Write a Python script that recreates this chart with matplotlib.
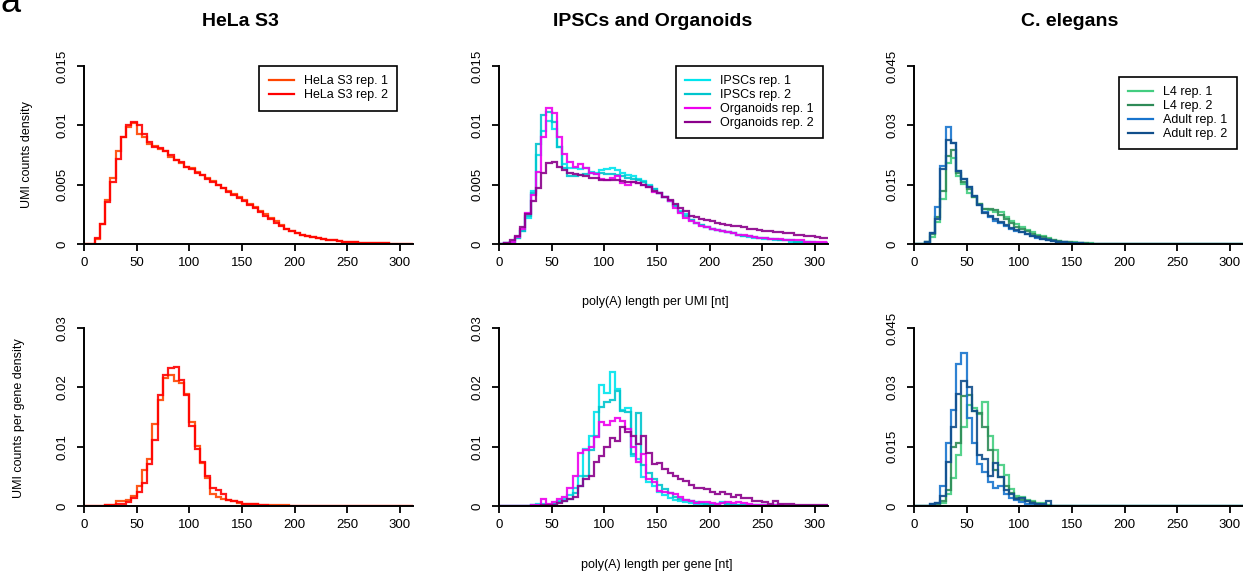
import numpy as np
import matplotlib.pyplot as plt
from matplotlib.lines import Line2D

plt.rcParams['font.family'] = ['Liberation Sans', 'DejaVu Sans']

W, H = 1243, 571
BIN = 5
NBINS = 64

# --- poly(A) length per UMI (density per 5 nt bin, starting at 0 nt) ---
hela_umi_rep1 = [0, 0, 0.0004, 0.0017, 0.0037, 0.0056, 0.0078, 0.0090, 0.0099, 0.0102,
                 0.0093, 0.0090, 0.0084, 0.0083, 0.0080, 0.0078, 0.0073, 0.0071, 0.0068, 0.0065,
                 0.0064, 0.0061, 0.0058, 0.0056, 0.0053, 0.0050, 0.0047, 0.0045, 0.0042, 0.0040,
                 0.0037, 0.0034, 0.0031, 0.0028, 0.0025, 0.0022, 0.0019, 0.0016, 0.0013, 0.0011,
                 0.0009, 0.0008, 0.0007, 0.0006, 0.0005, 0.0004, 0.00035, 0.0003, 0.00025, 0.0002,
                 0.00018, 0.00015, 0.00012, 0.0001, 0.00009, 0.00007, 0.00006, 0.00005, 0.00004, 0.00003,
                 0.00003, 0.00002, 0.00002]
hela_umi_rep2 = [0, 0, 0.0005, 0.0017, 0.0035, 0.0052, 0.0072, 0.0090, 0.0100, 0.0103,
                 0.0100, 0.0093, 0.0086, 0.0082, 0.0081, 0.0078, 0.0075, 0.0071, 0.0069, 0.0065,
                 0.0063, 0.0060, 0.0058, 0.0055, 0.0052, 0.0050, 0.0047, 0.0044, 0.0041, 0.0039,
                 0.0036, 0.0033, 0.0030, 0.0027, 0.0024, 0.0021, 0.0018, 0.0015, 0.0013, 0.0011,
                 0.0009, 0.0008, 0.0007, 0.0006, 0.0005, 0.0004, 0.00035, 0.0003, 0.00025, 0.0002,
                 0.00017, 0.00014, 0.00012, 0.0001, 0.00008, 0.00007, 0.00006, 0.00005, 0.00004, 0.00003,
                 0.00003, 0.00002, 0.00002]

ipsc_umi_rep1 = [0, 0.0001, 0.0002, 0.0005, 0.0011, 0.0022, 0.0045, 0.0075, 0.0095, 0.0104,
                 0.0097, 0.0082, 0.0067, 0.0064, 0.0064, 0.0063, 0.0064, 0.0061, 0.0060, 0.0062,
                 0.0063, 0.0064, 0.0062, 0.0060, 0.0058, 0.0057, 0.0055, 0.0053, 0.0050, 0.0046,
                 0.0043, 0.0040, 0.0036, 0.0033, 0.0028, 0.0025, 0.0020, 0.0018, 0.0016, 0.0014,
                 0.0013, 0.0012, 0.0011, 0.0010, 0.0009, 0.0008, 0.0007, 0.0006, 0.0005, 0.0005,
                 0.0004, 0.0004, 0.0003, 0.0003, 0.0003, 0.0002, 0.0002, 0.0002, 0.0002, 0.0001,
                 0.0001, 0.0001, 0.0001]
ipsc_umi_rep2 = [0, 0.0001, 0.0002, 0.0005, 0.0011, 0.0024, 0.0043, 0.0084, 0.0109, 0.0111,
                 0.0103, 0.0082, 0.0064, 0.0057, 0.0057, 0.0058, 0.0059, 0.0060, 0.0059, 0.0060,
                 0.0059, 0.0059, 0.0058, 0.0057, 0.0056, 0.0055, 0.0054, 0.0052, 0.0049, 0.0046,
                 0.0043, 0.0040, 0.0036, 0.0032, 0.0027, 0.0024, 0.0020, 0.0018, 0.0016, 0.0014,
                 0.0013, 0.0012, 0.0011, 0.0010, 0.0009, 0.0008, 0.0007, 0.0007, 0.0006, 0.0005,
                 0.0005, 0.0004, 0.0004, 0.0003, 0.0003, 0.0003, 0.0002, 0.0002, 0.0002, 0.0002,
                 0.0001, 0.0001, 0.0001]
org_umi_rep1 = [0, 0.0001, 0.0002, 0.0006, 0.0013, 0.0026, 0.0041, 0.0061, 0.0090, 0.0115,
                0.0110, 0.0090, 0.0076, 0.0069, 0.0065, 0.0067, 0.0064, 0.0060, 0.0059, 0.0055,
                0.0054, 0.0056, 0.0057, 0.0051, 0.0050, 0.0052, 0.0051, 0.0050, 0.0048, 0.0044,
                0.0043, 0.0040, 0.0036, 0.0030, 0.0026, 0.0022, 0.0019, 0.0018, 0.0015, 0.0014,
                0.0013, 0.0012, 0.0011, 0.0010, 0.0009, 0.0008, 0.0008, 0.0007, 0.0006, 0.0005,
                0.0005, 0.0004, 0.0004, 0.0004, 0.0003, 0.0003, 0.0003, 0.0003, 0.0002, 0.0002,
                0.0002, 0.0002, 0.0001]
org_umi_rep2 = [0, 0.0001, 0.0003, 0.0007, 0.0014, 0.0025, 0.0036, 0.0047, 0.0060, 0.0068,
                0.0069, 0.0065, 0.0062, 0.0060, 0.0059, 0.0058, 0.0057, 0.0056, 0.0056, 0.0054,
                0.0054, 0.0054, 0.0054, 0.0053, 0.0052, 0.0052, 0.0051, 0.0050, 0.0048, 0.0045,
                0.0043, 0.0040, 0.0037, 0.0034, 0.0030, 0.0028, 0.0024, 0.0023, 0.0021, 0.0020,
                0.0019, 0.0018, 0.0017, 0.0016, 0.0015, 0.0015, 0.0014, 0.0013, 0.0013, 0.0012,
                0.0011, 0.0011, 0.0010, 0.0010, 0.0009, 0.0009, 0.0008, 0.0008, 0.0007, 0.0007,
                0.0006, 0.0005, 0.0005]

l4_umi_rep1 = [0, 0, 0.0004, 0.0018, 0.0056, 0.0115, 0.0206, 0.0218, 0.0172, 0.0152,
               0.0130, 0.0118, 0.0102, 0.0089, 0.0085, 0.0081, 0.0080, 0.0068, 0.0058, 0.0050,
               0.0044, 0.0036, 0.0030, 0.0024, 0.0019, 0.0014, 0.0011, 0.0008, 0.0006, 0.0005,
               0.0004, 0.0003, 0.0002, 0.0002, 0.0001, 0.0001]
l4_umi_rep2 = [0, 0, 0.0005, 0.0025, 0.0068, 0.0135, 0.0222, 0.0237, 0.0180, 0.0158,
               0.0140, 0.0118, 0.0102, 0.0089, 0.0088, 0.0085, 0.0074, 0.0064, 0.0054, 0.0044,
               0.0038, 0.0032, 0.0026, 0.0021, 0.0017, 0.0012, 0.0009, 0.0007, 0.0005, 0.0004,
               0.0003, 0.0002, 0.0002, 0.0001, 0.0001]
adult_umi_rep1 = [0, 0, 0.0006, 0.0027, 0.0093, 0.0196, 0.0295, 0.0256, 0.0185, 0.0164,
                  0.0143, 0.0121, 0.0098, 0.0081, 0.0068, 0.0058, 0.0052, 0.0045, 0.0039, 0.0034,
                  0.0030, 0.0025, 0.0020, 0.0016, 0.0012, 0.0009, 0.0007, 0.0005, 0.0004, 0.0003,
                  0.0002, 0.0002, 0.0001, 0.0001, 0.0001]
adult_umi_rep2 = [0, 0, 0.0006, 0.0027, 0.0064, 0.0190, 0.0262, 0.0256, 0.0185, 0.0164,
                  0.0143, 0.0121, 0.0098, 0.0078, 0.0070, 0.0062, 0.0055, 0.0048, 0.0041, 0.0036,
                  0.0031, 0.0026, 0.0021, 0.0017, 0.0013, 0.0010, 0.0008, 0.0006, 0.0004, 0.0003,
                  0.0002, 0.0002, 0.0001]

# --- poly(A) length per gene ---
hela_gene_rep1 = [0, 0, 0, 0, 0.0001, 0.0002, 0.0008, 0.0009, 0.0010, 0.0017,
                  0.0033, 0.0061, 0.0080, 0.0138, 0.0179, 0.0215, 0.0221, 0.0210, 0.0207, 0.0189,
                  0.0142, 0.0101, 0.0072, 0.0047, 0.0021, 0.0016, 0.0012, 0.0010, 0.0009, 0.0005,
                  0.0004, 0.0003, 0.0003, 0.0001, 0.0001, 0.0001, 0.0002, 0.0001, 0.0001]
hela_gene_rep2 = [0, 0, 0, 0, 0.0001, 0.0001, 0.0003, 0.0004, 0.0006, 0.0013,
                  0.0024, 0.0039, 0.0071, 0.0111, 0.0187, 0.0221, 0.0232, 0.0234, 0.0212, 0.0187,
                  0.0135, 0.0096, 0.0075, 0.0051, 0.0030, 0.0027, 0.0020, 0.0010, 0.0009, 0.0006,
                  0.0004, 0.0003, 0.0003, 0.0001, 0.0001]

ipsc_gene_rep1 = [0, 0, 0, 0, 0, 0, 0.0001, 0.0003, 0.0003, 0.0002,
                  0.0004, 0.0008, 0.0012, 0.0018, 0.0030, 0.0050, 0.0096, 0.0118, 0.0158, 0.0204,
                  0.0191, 0.0226, 0.0197, 0.0162, 0.0165, 0.0084, 0.0080, 0.0049, 0.0041, 0.0033,
                  0.0024, 0.0018, 0.0014, 0.0010, 0.0008, 0.0006, 0.0005, 0.0004, 0.0003, 0.0003,
                  0.0002, 0.0003, 0.0006, 0.0004, 0.0002, 0.0002, 0.0001, 0.0001, 0.0001, 0.0002,
                  0.0001, 0.0001, 0.0001]
ipsc_gene_rep2 = [0, 0, 0, 0, 0, 0, 0.0001, 0.0002, 0.0002, 0.0002,
                  0.0003, 0.0006, 0.0008, 0.0012, 0.0022, 0.0033, 0.0051, 0.0094, 0.0118, 0.0167,
                  0.0176, 0.0178, 0.0193, 0.0160, 0.0159, 0.0087, 0.0156, 0.0069, 0.0055, 0.0045,
                  0.0036, 0.0028, 0.0022, 0.0015, 0.0012, 0.0010, 0.0008, 0.0006, 0.0005, 0.0004,
                  0.0003, 0.0003, 0.0005, 0.0003, 0.0002, 0.0002, 0.0002, 0.0001, 0.0001, 0.0002,
                  0.0001, 0.0001, 0.0001]
org_gene_rep1 = [0, 0, 0, 0, 0, 0, 0.0001, 0.0002, 0.0011, 0.0003,
                 0.0007, 0.0011, 0.0016, 0.0030, 0.0051, 0.0090, 0.0094, 0.0099, 0.0116, 0.0142,
                 0.0137, 0.0143, 0.0149, 0.0143, 0.0130, 0.0099, 0.0075, 0.0088, 0.0045, 0.0040,
                 0.0025, 0.0023, 0.0022, 0.0020, 0.0016, 0.0010, 0.0008, 0.0005, 0.0006, 0.0007,
                 0.0005, 0.0004, 0.0005, 0.0006, 0.0005, 0.0006, 0.0005, 0.0003, 0.0002, 0.0002,
                 0.0001, 0.0002, 0.0001, 0.0001]
org_gene_rep2 = [0, 0, 0, 0, 0, 0, 0, 0, 0.0001, 0.0001,
                 0.0002, 0.0005, 0.0008, 0.0011, 0.0016, 0.0033, 0.0045, 0.0050, 0.0075, 0.0085,
                 0.0100, 0.0115, 0.0110, 0.0133, 0.0125, 0.0118, 0.0105, 0.0118, 0.0090, 0.0071,
                 0.0072, 0.0062, 0.0055, 0.0050, 0.0046, 0.0042, 0.0035, 0.0031, 0.0031, 0.0028,
                 0.0023, 0.0020, 0.0023, 0.0020, 0.0016, 0.0018, 0.0014, 0.0013, 0.0009, 0.0008,
                 0.0007, 0.0004, 0.0008, 0.0004, 0.0004, 0.0003, 0.0002, 0.0002, 0.0002, 0.0002,
                 0.0001, 0.0001, 0.0001]

l4_gene_rep1 = [0, 0, 0, 0, 0.0001, 0.0008, 0.0030, 0.0070, 0.0130, 0.0200,
                0.0255, 0.0248, 0.0232, 0.0262, 0.0178, 0.0142, 0.0104, 0.0078, 0.0042, 0.0026,
                0.0022, 0.0015, 0.0012, 0.0008, 0.0007, 0.0002]
l4_gene_rep2 = [0, 0, 0, 0, 0.0002, 0.0012, 0.0040, 0.0150, 0.0160, 0.0277,
                0.0280, 0.0239, 0.0236, 0.0200, 0.0142, 0.0092, 0.0074, 0.0050, 0.0033, 0.0020,
                0.0016, 0.0012, 0.0010, 0.0006, 0.0003, 0.0001]
adult_gene_rep1 = [0, 0, 0, 0.0006, 0.0007, 0.0050, 0.0159, 0.0243, 0.0359, 0.0388,
                   0.0222, 0.0160, 0.0105, 0.0085, 0.0060, 0.0045, 0.0050, 0.0030, 0.0020, 0.0015,
                   0.0010, 0.0006, 0.0004, 0.0003, 0.0002, 0.0001]
adult_gene_rep2 = [0, 0, 0, 0.0006, 0.0007, 0.0025, 0.0110, 0.0200, 0.0283, 0.0317,
                   0.0302, 0.0239, 0.0130, 0.0120, 0.0075, 0.0108, 0.0074, 0.0040, 0.0030, 0.0018,
                   0.0020, 0.0012, 0.0008, 0.0004, 0.0004, 0.0012]

hela_labels = ['HeLa S3 rep. 1', 'HeLa S3 rep. 2']
hela_colors = ['#FF4500', '#FF0000']
iso_labels = ['IPSCs rep. 1', 'IPSCs rep. 2', 'Organoids rep. 1', 'Organoids rep. 2']
iso_colors = ['#00E5EE', '#00C5CD', '#EE00EE', '#8B008B']
ce_labels = ['L4 rep. 1', 'L4 rep. 2', 'Adult rep. 1', 'Adult rep. 2']
ce_colors = ['#43CD80', '#2E8B57', '#1874CD', '#104E8B']

titles = ['HeLa S3', 'IPSCs and Organoids', 'C. elegans']


def pad(vals):
    return list(vals) + [0.0] * (NBINS - len(vals))


edges = np.arange(NBINS + 1) * BIN

fig = plt.figure(figsize=(W / 100, H / 100), dpi=100)

col_x = [84, 499, 914]
row_y = [244, 506]
ax_w, ax_h = 329, 178

panels = [
    [(hela_umi_rep1, hela_umi_rep2), hela_colors, hela_labels, [0, 0.005, 0.01, 0.015],
     ['0', '0.005', '0.01', '0.015'], (0.951, 1.0)],
    [(ipsc_umi_rep1, ipsc_umi_rep2, org_umi_rep1, org_umi_rep2), iso_colors, iso_labels,
     [0, 0.005, 0.01, 0.015], ['0', '0.005', '0.01', '0.015'], (0.985, 1.0)],
    [(l4_umi_rep1, l4_umi_rep2, adult_umi_rep1, adult_umi_rep2), ce_colors, ce_labels,
     [0, 0.015, 0.03, 0.045], ['0', '0.015', '0.03', '0.045'], (0.982, 0.938)],
    [(hela_gene_rep1, hela_gene_rep2), hela_colors, None, [0, 0.01, 0.02, 0.03],
     ['0', '0.01', '0.02', '0.03'], None],
    [(ipsc_gene_rep1, ipsc_gene_rep2, org_gene_rep1, org_gene_rep2), iso_colors, None,
     [0, 0.01, 0.02, 0.03], ['0', '0.01', '0.02', '0.03'], None],
    [(l4_gene_rep1, l4_gene_rep2, adult_gene_rep1, adult_gene_rep2), ce_colors, None,
     [0, 0.015, 0.03, 0.045], ['0', '0.015', '0.03', '0.045'], None],
]

for i, (series, colors, labels, yticks, ylabels, legpos) in enumerate(panels):
    r, c = divmod(i, 3)
    ax = fig.add_axes([col_x[c] / W, 1 - row_y[r] / H, ax_w / W, ax_h / H])
    for vals, col in zip(series, colors):
        ax.stairs(pad(vals), edges, baseline=None, color=col, lw=1.6, alpha=0.9)
    ax.set_xlim(0, ax_w / 1.0533)
    ax.set_ylim(0, yticks[-1])
    ax.set_xticks(range(0, 301, 50))
    ax.set_yticks(yticks)
    ax.set_yticklabels(ylabels)
    for s in ['top', 'right']:
        ax.spines[s].set_visible(False)
    for s in ['left', 'bottom']:
        ax.spines[s].set_linewidth(1.4)
    ax.tick_params(direction='out', length=5, width=1.3, labelsize=9.5)
    ax.tick_params(axis='x', pad=4)
    ax.tick_params(axis='y', pad=6)
    plt.setp(ax.get_yticklabels(), rotation=90, va='center')
    if labels:
        handles = [Line2D([], [], color=col, lw=1.6) for col in colors]
        leg = ax.legend(handles, labels, loc='upper right', bbox_to_anchor=legpos,
                        fontsize=9, fancybox=False, edgecolor='black', framealpha=1,
                        borderpad=0.75, labelspacing=0.15, handlelength=2.0,
                        handletextpad=0.8, borderaxespad=0)
        leg.get_frame().set_linewidth(1.2)

for tx, t in zip([240, 653, 1070], titles):
    fig.text(tx / W, 1 - 22 / H, t, ha='center', va='center', fontsize=14, fontweight='bold')

fig.text(655 / W, 1 - 302 / H, 'poly(A) length per UMI [nt]', ha='center', va='center', fontsize=9)
fig.text(657 / W, 1 - 565 / H, 'poly(A) length per gene [nt]', ha='center', va='center', fontsize=9)
fig.text(27 / W, 1 - 155 / H, 'UMI counts density', rotation=90, ha='center', va='center', fontsize=9)
fig.text(19 / W, 1 - 418 / H, 'UMI counts per gene density', rotation=90, ha='center', va='center',
         fontsize=9)
fig.text(0.0, 1 - 12 / H, 'a', ha='left', va='baseline', fontsize=26)

fig.savefig('out.png', dpi=100)
